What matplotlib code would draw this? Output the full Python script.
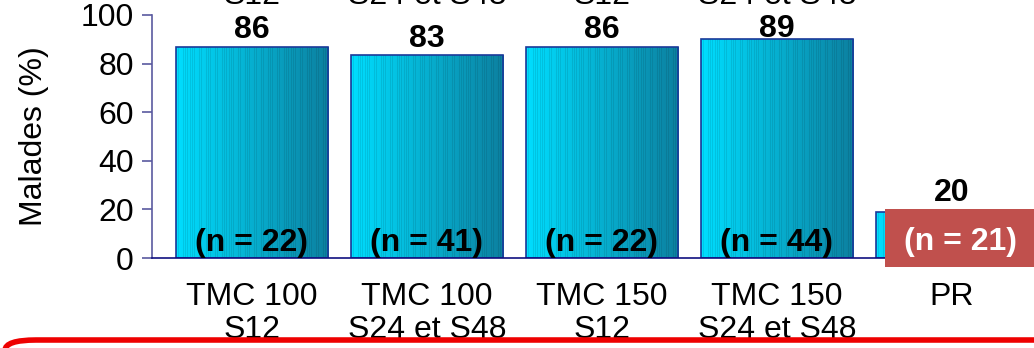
import numpy as np
import matplotlib
matplotlib.use('Agg')
import matplotlib.pyplot as plt
from matplotlib.patches import Rectangle, FancyBboxPatch

# Data
categories = ['TMC 100\nS12', 'TMC 100\nS24 et S48', 'TMC 150\nS12', 'TMC 150\nS24 et S48', 'PR']
heights = [87, 83.5, 87, 90, 19]
value_labels = ['86', '83', '86', '89', '20']
n_labels = ['(n = 22)', '(n = 41)', '(n = 22)', '(n = 44)', '(n = 21)']
top_cut_labels = ['S12', 'S24 et S48', 'S12', 'S24 et S48']

plt.rcParams['font.family'] = ['Liberation Sans', 'DejaVu Sans']

W, H = 1034, 348
fig = plt.figure(figsize=(W / 100, H / 100), dpi=100)
ax = fig.add_axes([152 / W, (H - 258) / H, (W - 152) / W, 243 / H])

x = np.arange(len(categories))
bar_w = 0.87
bars = ax.bar(x, heights, width=bar_w, color='none', edgecolor='#1a3a9a', linewidth=1.2, zorder=3)

# horizontal cyan -> teal gradient with thin vertical stripes
cols = 200
t = np.linspace(0, 1, cols)
left_c = np.array([0, 222, 255]) / 255
right_c = np.array([12, 128, 160]) / 255
grad = left_c[None, :] * (1 - t[:, None]) + right_c[None, :] * t[:, None]
stripes = 1 - 0.09 * (np.arange(cols) % 3 == 0)
grad = np.clip(grad * stripes[:, None], 0, 1)
img = grad[None, :, :]
for b in bars:
    bx, by = b.get_x(), b.get_y()
    im = ax.imshow(img, extent=[bx, bx + b.get_width(), by, by + b.get_height()],
                   aspect='auto', zorder=2, interpolation='nearest')
    im.set_clip_path(b)

ax.set_xlim(-0.571, 4.469)
ax.set_ylim(0, 100)
ax.set_yticks([0, 20, 40, 60, 80, 100])
ax.set_xticks(x)
ax.set_xticklabels(categories, fontsize=23, linespacing=1.15)
ax.tick_params(axis='x', length=0, pad=17)
ax.tick_params(axis='y', length=7, width=1.2, color='#5a5aa0', labelsize=23, pad=6)
ax.set_ylabel('Malades (%)', fontsize=23, labelpad=23)

for side in ['top', 'right']:
    ax.spines[side].set_visible(False)
ax.spines['left'].set_color('#5a5aa0')
ax.spines['left'].set_linewidth(1.2)
ax.spines['bottom'].set_color('#101080')
ax.spines['bottom'].set_linewidth(1.2)
ax.spines['bottom'].set_zorder(4)

for i in range(len(categories)):
    label_y = min(heights[i] + 3.5, 91) if i < 4 else 23.5
    ax.text(x[i], label_y, value_labels[i], ha='center', va='baseline',
            fontsize=23, fontweight='bold', zorder=5)
    if i < 4:
        ax.text(x[i], 3, n_labels[i], ha='center', va='baseline', fontsize=23,
                fontweight='bold', zorder=5)

# highlighted box for PR
fig.add_artist(Rectangle((885 / W, (H - 267) / H), 160 / W, 58 / H,
                         transform=fig.transFigure, facecolor='#c0504d', edgecolor='none', zorder=6))
fig.text(960 / W, (H - 242) / H, n_labels[4], ha='center', va='center', color='white',
         fontsize=23, fontweight='bold', zorder=7)

# cut-off labels at the top
for i, lab in enumerate(top_cut_labels):
    fig.text(ax.transData.transform((x[i], 0))[0] / W, (H - 4) / H, lab, ha='center',
             va='baseline', fontsize=23)

# red rounded frame at the bottom
fig.add_artist(FancyBboxPatch((5 / W, -0.3), 1.2, 0.3 + (H - 340) / H,
                              boxstyle='round,pad=0,rounding_size=0.03',
                              transform=fig.transFigure, facecolor='white',
                              edgecolor='#ee0000', linewidth=4, zorder=8))

fig.savefig('out.png', dpi=100)
